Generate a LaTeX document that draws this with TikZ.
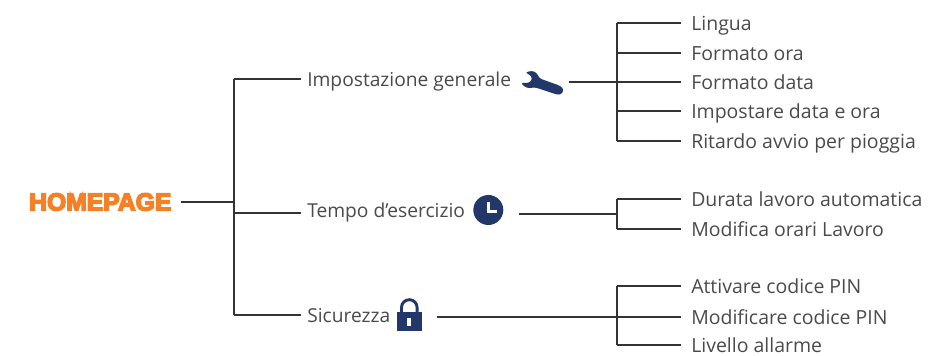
\documentclass[tikz,border=0pt]{standalone}
\usepackage{fontspec}
\setmainfont{Open Sans}
\newfontfamily\homefont[FakeBold=6]{Liberation Sans Bold}
\definecolor{homeorange}{HTML}{F58026}
\definecolor{iconblue}{HTML}{22376A}
\definecolor{labelgray}{HTML}{4A4A4A}
\definecolor{linegray}{HTML}{333333}
\tikzset{
  rootlabel/.style={anchor=west,inner sep=0pt,text=homeorange,font=\homefont\fontsize{18.5pt}{21pt}\selectfont},
  grouplabel/.style={anchor=west,inner ysep=0pt,inner xsep=4.5pt,text height=12pt,text depth=0pt,text=labelgray,font=\fontsize{14.4pt}{16pt}\selectfont},
  leaflabel/.style={anchor=west,inner ysep=0pt,inner xsep=7.5pt,text height=12pt,text depth=0pt,text=labelgray,font=\fontsize{14.6pt}{16pt}\selectfont},
  iconbox/.style={inner sep=0pt,minimum width=#1*0.75pt,minimum height=22.5pt},
  treeline/.style={draw=linegray,line width=1.3pt},
}
\begin{document}
\begin{tikzpicture}[x=0.75pt,y=-0.75pt]
  \useasboundingbox (0,0) rectangle (929,356);

  % homepage and its three groups
  \node[rootlabel] (home) at (29,202) {HOMEPAGE};
  \coordinate (hometurn) at (234,202);
  \coordinate (hometop) at (234,79);
  \coordinate (homebottom) at (234,315);
  \coordinate (homemid) at (234,213);
  \node[grouplabel] (general) at (301,79) {Impostazione generale};
  \node[grouplabel] (time) at (301,210) {Tempo d’esercizio};
  \node[grouplabel] (safety) at (301,314) {Sicurezza};

  % icons
  \node[iconbox=47] (wrench) at (545.5,82) {};
  \node[iconbox=40] (clock) at (498.5,214) {};
  \node[iconbox=48] (lock) at (413,317) {};

  \begin{scope}[shift={(490,50)},x=0.25pt,y=-0.25pt]
    \fill[iconblue,rounded corners=2pt] (105,68) -- (125,62) -- (140,68) -- (148,85) -- (212,108)
      -- (222,120) -- (212,135) -- (195,132) -- (135,112) -- (115,115) -- (100,108) -- (93,97)
      -- (108,100) -- (122,96) -- (127,85) -- (120,74) -- cycle;
  \end{scope}

  \fill[iconblue] (488.3,210) circle[radius=15];
  \draw[white,line width=2pt] (488.3,202.5) -- (488.3,211.5) -- (497,211.5);

  \draw[iconblue,line width=2.2pt] (401.5,313) -- (401.5,307.5) arc[start angle=180,end angle=360,radius=7.8] -- (417.1,313);
  \fill[iconblue] (396.7,311.7) rectangle (421.7,330.7);
  \fill[white] (406.7,317.5) rectangle (410.7,326);

  % leaves of the first group
  \coordinate (generaljoin) at (617,82);
  \coordinate (generaltop) at (617,23);
  \coordinate (generalbottom) at (617,141);
  \node[leaflabel] (lingua) at (681,23) {Lingua};
  \node[leaflabel] (oraformat) at (681,53) {Formato ora};
  \node[leaflabel] (dataformat) at (681,82) {Formato data};
  \node[leaflabel] (dataora) at (681,111) {Impostare data e ora};
  \node[leaflabel] (ritardo) at (681,141) {Ritardo avvio per pioggia};

  % leaves of the second group
  \coordinate (timejoin) at (617,214);
  \coordinate (timetop) at (617,199);
  \coordinate (timebottom) at (617,229);
  \node[leaflabel] (durata) at (681,199) {Durata lavoro automatica};
  \node[leaflabel] (orari) at (681,229) {Modifica orari Lavoro};

  % leaves of the third group
  \coordinate (safetytop) at (617,286);
  \coordinate (safetyjoin) at (617,317);
  \coordinate (safetybottom) at (617,345);
  \node[leaflabel] (attivare) at (681,286) {Attivare codice PIN};
  \node[leaflabel] (modificare) at (681,317) {Modificare codice PIN};
  \node[leaflabel] (livello) at (681,345) {Livello allarme};

  % connectors
  \draw[treeline] ([xshift=6.75pt]home.east) -- (hometurn);
  \draw[treeline] (hometop) -- (homebottom);
  \draw[treeline] (hometop) -- (general.west);
  \draw[treeline] (homemid) -- (homemid -| time.west);
  \draw[treeline] (homebottom) -- (homebottom -| safety.west);

  \draw[treeline] (wrench.east) -- (generaljoin);
  \draw[treeline] (generaltop) -- (generalbottom);
  \draw[treeline] (generaltop) -- (lingua.west);
  \draw[treeline] (generaltop |- oraformat) -- (oraformat.west);
  \draw[treeline] (generaljoin) -- (dataformat.west);
  \draw[treeline] (generaltop |- dataora) -- (dataora.west);
  \draw[treeline] (generalbottom) -- (ritardo.west);

  \draw[treeline] (clock.east) -- (timejoin);
  \draw[treeline] (timetop) -- (timebottom);
  \draw[treeline] (timetop) -- (durata.west);
  \draw[treeline] (timebottom) -- (orari.west);

  \draw[treeline] (lock.east) -- (safetyjoin);
  \draw[treeline] (safetytop) -- (safetybottom);
  \draw[treeline] (safetytop) -- (attivare.west);
  \draw[treeline] (safetyjoin) -- (modificare.west);
  \draw[treeline] (safetybottom) -- (livello.west);
\end{tikzpicture}
\end{document}
